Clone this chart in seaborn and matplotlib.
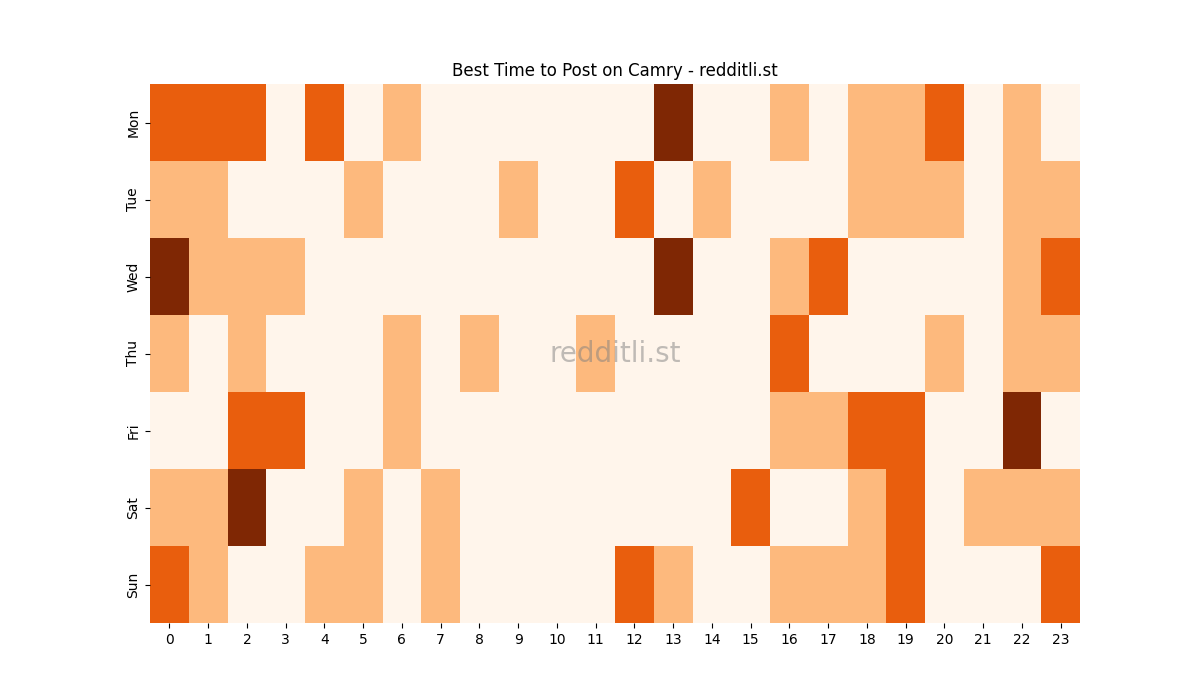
import matplotlib
matplotlib.use("Agg")
import matplotlib.pyplot as plt
import seaborn as sns
import pandas as pd

days = ["Mon", "Tue", "Wed", "Thu", "Fri", "Sat", "Sun"]
hours = list(range(24))

mon = [2, 2, 2, 0, 2, 0, 1, 0, 0, 0, 0, 0, 0, 3, 0, 0, 1, 0, 1, 1, 2, 0, 1, 0]
tue = [1, 1, 0, 0, 0, 1, 0, 0, 0, 1, 0, 0, 2, 0, 1, 0, 0, 0, 1, 1, 1, 0, 1, 1]
wed = [3, 1, 1, 1, 0, 0, 0, 0, 0, 0, 0, 0, 0, 3, 0, 0, 1, 2, 0, 0, 0, 0, 1, 2]
thu = [1, 0, 1, 0, 0, 0, 1, 0, 1, 0, 0, 1, 0, 0, 0, 0, 2, 0, 0, 0, 1, 0, 1, 1]
fri = [0, 0, 2, 2, 0, 0, 1, 0, 0, 0, 0, 0, 0, 0, 0, 0, 1, 1, 2, 2, 0, 0, 3, 0]
sat = [1, 1, 3, 0, 0, 1, 0, 1, 0, 0, 0, 0, 0, 0, 0, 2, 0, 0, 1, 2, 0, 1, 1, 1]
sun = [2, 1, 0, 0, 1, 1, 0, 1, 0, 0, 0, 0, 2, 1, 0, 0, 1, 1, 1, 2, 0, 0, 0, 2]

df = pd.DataFrame([mon, tue, wed, thu, fri, sat, sun], index=days, columns=hours)

fig, ax = plt.subplots(figsize=(12, 7), dpi=100)
sns.heatmap(df, cmap="Oranges", vmin=0, vmax=3, cbar=False, ax=ax)
ax.set_title("Best Time to Post on Camry - redditli.st")
ax.set_xlabel("")
ax.set_ylabel("")

# watermark
ax.text(0.5, 0.5, "redditli.st", transform=ax.transAxes, fontsize=20,
        color="gray", alpha=0.5, ha="center", va="center")

fig.savefig("out.png")
